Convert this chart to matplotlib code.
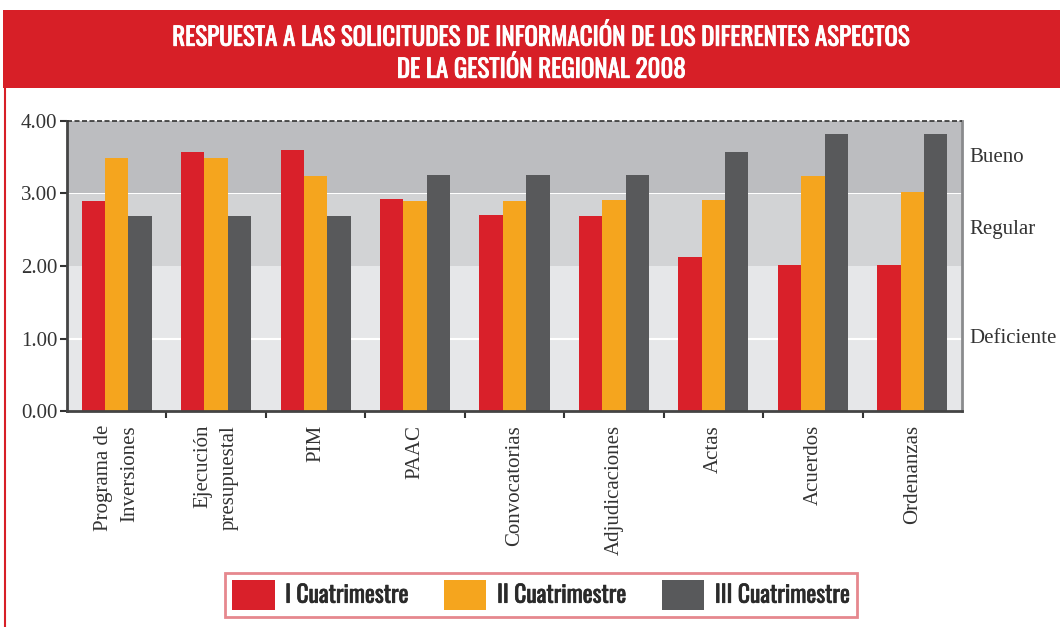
import matplotlib
matplotlib.use('Agg')
import matplotlib.pyplot as plt
import matplotlib.patheffects as pe
import numpy as np
from matplotlib.patches import Rectangle, Patch
from matplotlib import font_manager

categories = ["Programa de\nInversiones", "Ejecución\npresupuestal", "PIM", "PAAC",
              "Convocatorias", "Adjudicaciones", "Actas", "Acuerdos", "Ordenanzas"]
q1 = [2.90, 3.57, 3.60, 2.93, 2.70, 2.69, 2.13, 2.02, 2.02]
q2 = [3.49, 3.49, 3.24, 2.90, 2.90, 2.91, 2.91, 3.24, 3.02]
q3 = [2.69, 2.69, 2.69, 3.26, 3.26, 3.26, 3.57, 3.82, 3.82]
series_names = ["I Cuatrimestre", "II Cuatrimestre", "III Cuatrimestre"]
colors = ["#d9202a", "#f5a51e", "#58595b"]
bands = [(0, 2, "#e6e7e9"), (2, 3, "#d2d3d5"), (3, 4, "#bcbdc0")]
ratings = [("Bueno", 3.5), ("Regular", 2.5), ("Deficiente", 1.0)]

W, H = 1060, 627
fig = plt.figure(figsize=(W / 100, H / 100), dpi=100)
fig.patch.set_facecolor("white")

serif = ["Liberation Serif", "DejaVu Serif"]
names = {f.name for f in font_manager.fontManager.ttflist}
narrow = next((f for f in ["Oswald", "Roboto Condensed", "Archivo Narrow", "PT Sans Narrow"]
               if f in names), "DejaVu Sans")
is_narrow = narrow != "DejaVu Sans"
red = "#d71f27"

# header band + left border
fig.add_artist(Rectangle((3 / W, 1 - 88 / H), 1, 78 / H, transform=fig.transFigure,
                         facecolor=red, edgecolor="none"))
fig.add_artist(plt.Line2D([4.5 / W, 4.5 / W], [0, 1 - 88 / H], transform=fig.transFigure,
                          color=red, lw=1.5))
tsize = 18 if is_narrow else 13.5
for y, line in [(37, "RESPUESTA A LAS SOLICITUDES DE INFORMACIÓN DE LOS DIFERENTES ASPECTOS"),
                (69, "DE LA GESTIÓN REGIONAL 2008")]:
    fig.text(542 / W, 1 - y / H, line, color="white", fontsize=tsize, fontweight="bold",
             ha="center", va="center", family=narrow,
             path_effects=[pe.withStroke(linewidth=0.6, foreground="white")])

ax = fig.add_axes([67 / W, 1 - 411 / H, (962 - 67) / W, (411 - 121) / H])
n = len(categories)
x = np.arange(n)
for lo, hi, c in bands:
    ax.axhspan(lo, hi, color=c, zorder=0, lw=0)
ax.axhline(1.0, color="white", lw=1.5, zorder=1)

bw = 0.235
for i, (vals, c) in enumerate(zip([q1, q2, q3], colors)):
    ax.bar(x + (i - 1) * bw, vals, width=bw, color=c, zorder=2, lw=0)

ax.set_xlim(-0.5, n - 0.5)
ax.set_ylim(0, 4)
ax.set_yticks([0, 1, 2, 3, 4])
ax.set_yticklabels([f"{v:.2f}" for v in [0, 1, 2, 3, 4]], family=serif, fontsize=15, color="#333333")
ax.set_xticks(x)
ax.set_xticklabels(categories, rotation=90, family=serif, fontsize=15, color="#333333",
                   va="top", ha="center", multialignment="right", linespacing=1.5)
ax.tick_params(axis="x", which="major", length=0, pad=10)
ax.set_xticks(np.arange(0.5, n - 0.5, 1), minor=True)
ax.tick_params(axis="x", which="minor", length=5, width=1.5, color="#333333", direction="out")
ax.tick_params(axis="y", length=5, width=1.5, color="#333333", pad=2)

for side in ["left", "bottom"]:
    ax.spines[side].set_color("#444444")
    ax.spines[side].set_linewidth(2)
ax.spines["right"].set_color("#8a8b8d")
ax.spines["right"].set_linewidth(2)
ax.spines["top"].set_visible(False)
ax.axhline(4.0, color="#333333", lw=1.2, ls=(0, (3, 1.5)), zorder=3, clip_on=False)

for name, y in ratings:
    ax.text(1.008, y, name, transform=ax.get_yaxis_transform(), family=serif,
            fontsize=15, color="#333333", va="center", ha="left")

lsize = 17 if is_narrow else 12.5
handles = [Patch(facecolor=c, edgecolor="none") for c in colors]
leg = fig.legend(handles, series_names, loc="center", bbox_to_anchor=(541 / W, 1 - 595 / H),
                 ncol=3, frameon=True, fancybox=False, handlelength=1.8, handleheight=1.6,
                 columnspacing=1.5, handletextpad=0.45, borderpad=0.3,
                 prop={"family": narrow, "weight": "bold", "size": lsize})
leg.get_frame().set_edgecolor("#e06a72")
leg.get_frame().set_linewidth(2)
for t in leg.get_texts():
    t.set_color("#2a2a2a")
    t.set_path_effects([pe.withStroke(linewidth=0.5, foreground="#2a2a2a")])

fig.savefig("out.png", dpi=100)
